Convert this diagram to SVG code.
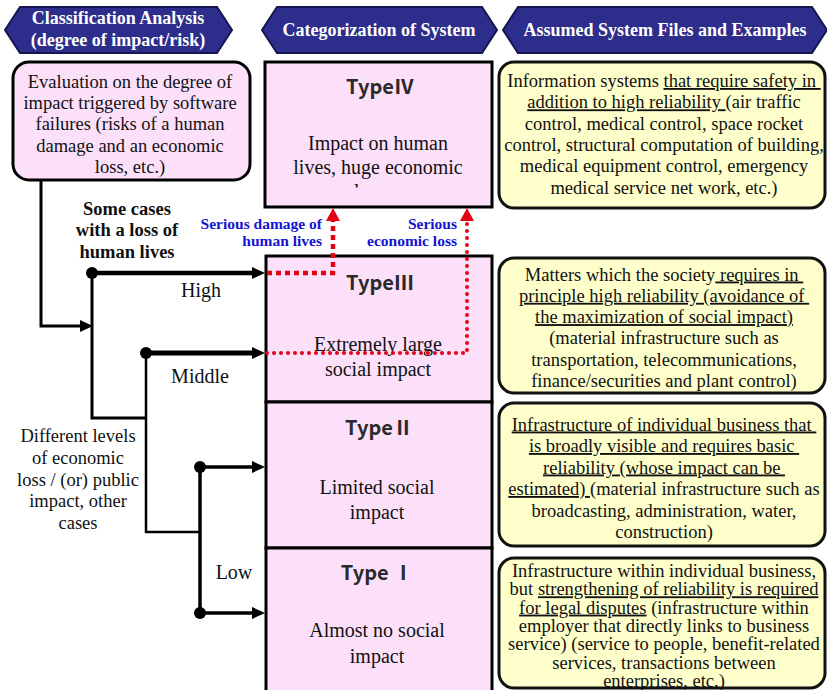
<svg xmlns="http://www.w3.org/2000/svg" width="827" height="690" viewBox="0 0 827 690">
<style>
.hdr{fill:#2d2d8c;stroke:#15154f;stroke-width:2}
.ht{font-family:'Liberation Serif',serif;font-weight:bold;font-size:18px;fill:#fff;text-anchor:middle}
.pink{fill:#fce0fa;stroke:#000;stroke-width:3}
.yel{fill:#ffffcc;stroke:#111;stroke-width:3}
.t{font-family:'Liberation Serif',serif;font-size:18.5px;fill:#111;text-anchor:middle;white-space:pre}
.tb{font-family:'Liberation Serif',serif;font-size:18.5px;font-weight:bold;fill:#111;text-anchor:middle}
.big{font-family:'Liberation Serif',serif;font-size:20px;fill:#111;text-anchor:middle}
.type{font-family:'Noto Sans CJK KR','Noto Sans',sans-serif;font-size:20px;font-weight:bold;fill:#2a2a2a;text-anchor:middle}
.blue{font-family:'Liberation Serif',serif;font-size:15.5px;font-weight:bold;fill:#1414d2;text-anchor:end}
.u{text-decoration:underline}
.ln{fill:none;stroke:#000}
.red1{fill:none;stroke:#e50014;stroke-width:4.5;stroke-dasharray:5 4}
.red2{fill:none;stroke:#e50014;stroke-width:4;stroke-linecap:round;stroke-dasharray:0 7}
</style>
<defs>
<marker id="ab" markerUnits="userSpaceOnUse" markerWidth="14" markerHeight="12" viewBox="0 0 14 12" refX="7" refY="6" orient="auto"><path d="M0,0 L13,6 L0,12 z" fill="#000"/></marker>
<marker id="ar" markerUnits="userSpaceOnUse" markerWidth="14" markerHeight="14" viewBox="0 0 14 14" refX="1" refY="7" orient="auto"><path d="M0,0 L13,7 L0,14 z" fill="#e50014"/></marker>
<clipPath id="clipIV"><rect x="265" y="62" width="227" height="125.5"/></clipPath>
</defs>

<g id="header1"><path class="hdr" d="M5,30 L20,7 L217,7 L232,30 L217,53 L20,53 Z"/><text class="ht" x="118" y="24">Classification Analysis</text><text class="ht" x="118" y="46">(degree of impact/risk)</text></g>
<g id="header2"><path class="hdr" d="M262,30 L277,7 L482,7 L497,30 L482,53 L277,53 Z"/><text class="ht" x="379" y="36">Categorization of System</text></g>
<g id="header3"><path class="hdr" d="M503,30 L518,7 L812,7 L827,30 L812,53 L518,53 Z"/><text class="ht" x="665" y="36">Assumed System Files and Examples</text></g>

<g id="evaluation"><rect class="pink" x="13" y="62" width="237" height="118" rx="16"/>
<text class="t" x="130" y="87.5">Evaluation on the degree of</text>
<text class="t" x="130" y="108.5">impact triggered by software</text>
<text class="t" x="130" y="130">failures (risks of a human</text>
<text class="t" x="130" y="151.5">damage and an economic</text>
<text class="t" x="130" y="173">loss, etc.)</text></g>

<g id="label-human"><text class="tb" x="127" y="214.5">Some cases</text><text class="tb" x="127" y="236">with a loss of</text><text class="tb" x="127" y="258">human lives</text></g>
<g id="label-high"><text class="big" x="201" y="297">High</text></g>
<g id="label-middle"><text class="big" x="200" y="383">Middle</text></g>
<g id="label-low"><text class="big" x="234" y="579">Low</text></g>
<g id="label-other"><text class="t" x="78" y="442">Different levels</text><text class="t" x="78" y="464">of economic</text><text class="t" x="78" y="485.5">loss / (or) public</text><text class="t" x="78" y="507">impact, other</text><text class="t" x="78" y="529">cases</text></g>
<g id="label-serious-human"><text class="blue" x="322" y="229">Serious damage of</text><text class="blue" x="322" y="246">human lives</text></g>
<g id="label-serious-econ"><text class="blue" x="457" y="229">Serious</text><text class="blue" x="457" y="246">economic loss</text></g>

<g id="type4"><rect class="pink" x="265" y="62" width="227" height="145"/>
<text class="type" x="380" y="94">TypeⅣ</text>
<text class="big" x="378" y="150">Impact on human</text>
<text class="big" x="378" y="174">lives, huge economic</text>
<text class="big" x="354" y="198" clip-path="url(#clipIV)" style="text-anchor:start">loss</text></g>
<g id="type3"><rect class="pink" x="266" y="256" width="226" height="146"/>
<text class="type" x="380" y="290">TypeⅢ</text>
<text class="big" x="378" y="351">Extremely large</text>
<text class="big" x="378" y="376">social impact</text></g>
<g id="type2"><rect class="pink" x="266" y="402" width="226" height="146"/>
<text class="type" x="379" y="435">TypeⅡ</text>
<text class="big" x="377" y="494">Limited social</text>
<text class="big" x="377" y="519">impact</text></g>
<g id="type1"><rect class="pink" x="266" y="548" width="226" height="146"/>
<text class="type" x="377" y="580">Type Ⅰ</text>
<text class="big" x="377" y="637">Almost no social</text>
<text class="big" x="377" y="663">impact</text></g>

<g id="example4"><rect class="yel" x="499" y="62" width="326" height="146" rx="15"/>
<text class="t" x="664" y="87">Information systems <tspan class="u">that require safety in </tspan></text>
<text class="t" x="664" y="108.3"><tspan class="u">addition to high reliability </tspan>(air traffic</text>
<text class="t" x="664" y="129.6">control, medical control, space rocket</text>
<text class="t" x="664" y="150.9">control, structural computation of building,</text>
<text class="t" x="664" y="172.2">medical equipment control, emergency</text>
<text class="t" x="664" y="193.5">medical service net work, etc.)</text></g>
<g id="example3"><rect class="yel" x="499" y="258" width="326" height="135" rx="15"/>
<text class="t" x="664" y="280.5">Matters which the society<tspan class="u"> requires in </tspan></text>
<text class="t" x="664" y="301.8"><tspan class="u">principle high reliability (avoidance of </tspan></text>
<text class="t" x="664" y="323.1"><tspan class="u">the maximization of social impact)</tspan></text>
<text class="t" x="664" y="344.4">(material infrastructure such as</text>
<text class="t" x="664" y="365.7">transportation, telecommunications,</text>
<text class="t" x="664" y="387">finance/securities and plant control)</text></g>
<g id="example2"><rect class="yel" x="499" y="403" width="326" height="143" rx="15"/>
<text class="t" x="664" y="430.5"><tspan class="u">Infrastructure of individual business that </tspan></text>
<text class="t" x="664" y="452"><tspan class="u">is broadly visible and requires basic </tspan></text>
<text class="t" x="664" y="473.5"><tspan class="u">reliability (whose impact can be </tspan></text>
<text class="t" x="664" y="495"><tspan class="u">estimated) </tspan>(material infrastructure such as</text>
<text class="t" x="664" y="516.5">broadcasting, administration, water,</text>
<text class="t" x="664" y="538">construction)</text></g>
<g id="example1"><rect class="yel" x="499" y="558" width="326" height="130" rx="15"/>
<text class="t" x="664" y="577">Infrastructure within individual business,</text>
<text class="t" x="664" y="595.3">but <tspan class="u">strengthening of reliability is required</tspan></text>
<text class="t" x="664" y="613.6"><tspan class="u">for legal disputes</tspan> (infrastructure within</text>
<text class="t" x="664" y="631.9">employer that directly links to business</text>
<text class="t" x="664" y="650.2">service) (service to people, benefit-related</text>
<text class="t" x="664" y="668.5">services, transactions between</text>
<text class="t" x="664" y="686.8">enterprises, etc.)</text></g>

<g id="connectors">
<path class="ln" stroke-width="3" d="M41,180 V326 H87" marker-end="url(#ab)"/>
<path class="ln" stroke-width="3" d="M92,273 V418 H146"/>
<path class="ln" stroke-width="2.5" d="M146,353 V532 H200"/>
<path class="ln" stroke-width="3.5" d="M200,467 V613"/>
<path class="ln" stroke-width="4.5" d="M92,273 H259" marker-end="url(#ab)"/>
<path class="ln" stroke-width="5" d="M146,353 H259" marker-end="url(#ab)"/>
<path class="ln" stroke-width="3.5" d="M200,467 H259" marker-end="url(#ab)"/>
<path class="ln" stroke-width="3.5" d="M200,613 H259" marker-end="url(#ab)"/>
<circle cx="92" cy="273" r="6"/>
<circle cx="146" cy="353" r="6"/>
<circle cx="200" cy="467" r="6"/>
<circle cx="200" cy="613" r="6"/>
<path class="red1" d="M267,273 H333 V220" marker-end="url(#ar)"/>
<path class="red2" d="M267,353 H467 V220" marker-end="url(#ar)"/>
</g>
</svg>
